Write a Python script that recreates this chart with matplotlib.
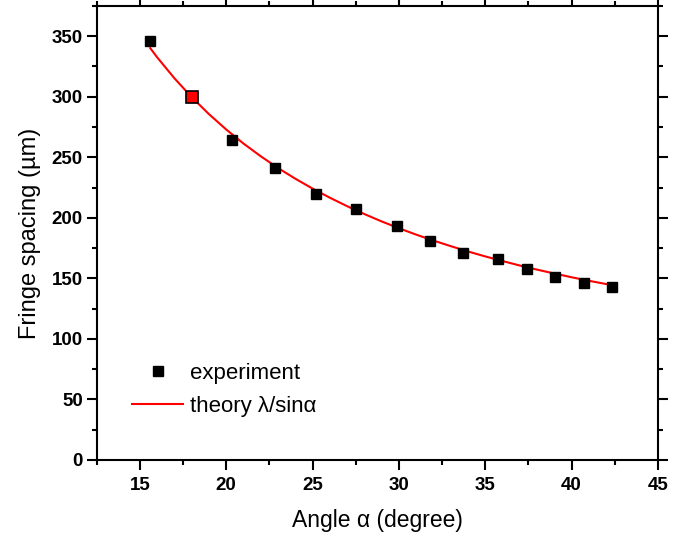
import matplotlib
matplotlib.use("Agg")
import matplotlib.pyplot as plt
from matplotlib.ticker import MultipleLocator

plt.rcParams['font.family'] = ['Liberation Sans', 'DejaVu Sans']

# measured fringe spacing
angle = [15.57, 17.99, 20.32, 22.83, 25.21, 27.51, 29.92, 31.83, 33.70,
         35.75, 37.43, 39.05, 40.72, 42.34]
spacing = [346, 300, 264, 241, 220, 207, 193, 181, 171, 166, 158, 151, 146, 143]
ref_idx = 1  # highlighted (red) point

# theory curve
theory_angle = [15.6, 16, 17, 18, 19, 20, 21, 22, 23, 24, 25, 26, 27, 28, 29,
                30, 31, 32, 33, 34, 35, 36, 37, 38, 39, 40, 41, 42, 42.3]
theory_spacing = [340.1, 332.5, 315.2, 299.6, 285.6, 272.9, 261.3, 250.8, 241.1,
                  232.3, 224.1, 216.6, 209.6, 203.1, 197.0, 191.4, 186.1, 181.2,
                  176.6, 172.2, 168.1, 164.3, 160.6, 157.2, 154.0, 150.9, 148.0,
                  145.3, 144.5]

fig = plt.figure(figsize=(6.91, 5.33), dpi=100)
ax = fig.add_axes([0.140, 0.137, 0.812, 0.852])

ax.plot(theory_angle, theory_spacing, color='red', lw=1.5, label='theory λ/sinα', zorder=2)
ax.plot(angle, spacing, ls='none', marker='s', ms=7, mfc='black', mec='black',
        label='experiment', zorder=3)
ax.plot([angle[ref_idx]], [spacing[ref_idx]], ls='none', marker='s', ms=8,
        mfc='red', mec='black', mew=1.2, zorder=4)

ax.set_xlim(12.5, 45)
ax.set_ylim(0, 375)
ax.xaxis.set_major_locator(MultipleLocator(5))
ax.xaxis.set_minor_locator(MultipleLocator(2.5))
ax.yaxis.set_major_locator(MultipleLocator(50))
ax.yaxis.set_minor_locator(MultipleLocator(25))

for s in ax.spines.values():
    s.set_linewidth(1.5)
ax.tick_params(which='both', direction='out', top=True, right=True, width=1.5)
ax.tick_params(which='major', length=7, labelsize=13.5)
ax.tick_params(which='minor', length=3.5)
ax.tick_params(axis='x', which='major', pad=5)
ax.tick_params(axis='y', which='major', pad=3)
for lbl in ax.get_xticklabels() + ax.get_yticklabels():
    lbl.set_fontweight('bold')

ax.set_xlabel('Angle α (degree)', fontsize=16.5, labelpad=11)
ax.set_ylabel('Fringe spacing (µm)', fontsize=17, labelpad=8)

handles, labels = ax.get_legend_handles_labels()
ax.legend(handles[::-1], labels[::-1], loc='center left',
          bbox_to_anchor=(132 / 691, 1 - 390 / 533), bbox_transform=fig.transFigure,
          frameon=False, fontsize=16, handlelength=2.3, handletextpad=0.3,
          labelspacing=0.55, borderpad=0, borderaxespad=0)

fig.savefig('out.png', dpi=100)
